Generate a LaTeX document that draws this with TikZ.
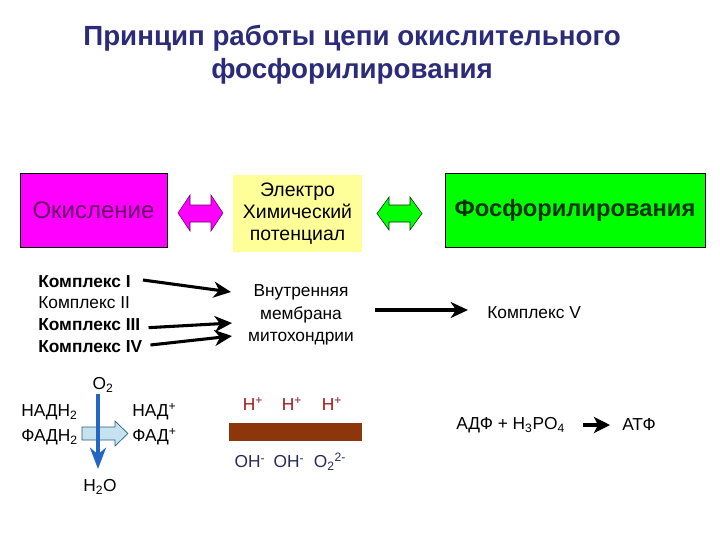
\documentclass[tikz,border=0pt]{standalone}
\usepackage{fontspec}
\setmainfont{Liberation Sans}
\usetikzlibrary{arrows.meta}
\definecolor{titleblue}{HTML}{2B2B7A}
\definecolor{boxmagenta}{HTML}{FF00FF}
\definecolor{boxgreen}{HTML}{00FF00}
\definecolor{oxtext}{HTML}{660066}
\definecolor{paleyellow}{HTML}{FFFF99}
\definecolor{phostext}{HTML}{003300}
\definecolor{barbrown}{HTML}{8C360C}
\definecolor{hred}{HTML}{A01818}
\definecolor{ohnavy}{HTML}{2A2A5A}
\definecolor{bluearrow}{HTML}{2466C4}
\definecolor{lightblue}{HTML}{C6E2EE}
\definecolor{lbborder}{HTML}{2A5A80}
\tikzset{
  bigbox/.style={draw=black, line width=0.6pt, minimum width=#1, minimum height=55.5pt, inner sep=0pt},
  lbl/.style={font=\fontsize{13}{15}\selectfont, inner sep=0pt, anchor=west},
  lblb/.style={font=\fontsize{13}{15}\selectfont\bfseries, inner sep=0pt, anchor=west},
  chem/.style={font=\fontsize{13}{15}\selectfont, inner sep=0pt},
  heavy/.style={line width=2.3pt, -{Stealth[length=13pt,width=12pt,inset=4pt]}},
}
\begin{document}
\begin{tikzpicture}[x=0.75pt,y=-0.75pt]
\useasboundingbox (0,0) rectangle (720,540);
\fill[white] (0,0) rectangle (720,540);
% title
\node[font=\fontsize{20.8}{25}\selectfont\bfseries, text=titleblue, align=center] (title) at (352,55) {Принцип работы цепи окислительного\\фосфорилирования};
% top boxes
\node[bigbox=110.25pt, fill=boxmagenta, text=oxtext, font=\fontsize{18}{20}\selectfont] (ox) at (93.5,210) {Окисление};
\node[fill=paleyellow, minimum width=96.75pt, minimum height=57.75pt, inner sep=0pt, align=center, font=\fontsize{14.6}{16.5}\selectfont] (pot) at (297.5,213.5) {Электро\\Химический\\потенциал};
\node[bigbox=195pt, fill=boxgreen, text=phostext, font=\fontsize{17.8}{20}\selectfont\bfseries] (phos) at (575,210) {Фосфорилирования};
% double block arrows
\draw[fill=boxmagenta, draw=oxtext, line width=0.4pt] (178,213) -- (190,195) -- (190,205) -- (211,205) -- (211,195) -- (223,213) -- (211,231) -- (211,222) -- (190,222) -- (190,231) -- cycle;
\draw[fill=boxgreen, draw=phostext, line width=0.4pt] (377,213.5) -- (389,197) -- (389,205) -- (410,205) -- (410,197) -- (422,213.5) -- (410,230) -- (410,222) -- (389,222) -- (389,230) -- cycle;
% complexes
\node[lblb] (c1) at (38,282) {Комплекс I};
\node[lbl] (c2) at (38,303) {Комплекс II};
\node[lblb] (c3) at (38,325) {Комплекс III};
\node[lblb] (c4) at (38,347) {Комплекс IV};
\node[align=center, font=\fontsize{13}{17}\selectfont, inner sep=0pt] (mem) at (301,315) {Внутренняя\\мембрана\\митохондрии};
\coordinate (t1) at (231,292);
\coordinate (t3) at (232,323);
\coordinate (t4) at (232,336);
\draw[heavy] ([xshift=9pt,yshift=1.5pt]c1.east) -- (t1);
\draw[heavy] ([xshift=6pt,yshift=-2pt]c3.east) -- (t3);
\draw[heavy] ([xshift=6pt,yshift=1.5pt]c4.east) -- (t4);
\node[lbl] (c5) at (487,313) {Комплекс V};
\coordinate (m1) at (375,310);
\draw[heavy] (m1) -- ([xshift=-14.25pt]c5.west |- m1);
% bottom left
\node[chem] (o2) at (103,385) {O\textsubscript{2}};
\node[chem, anchor=west] (nadh) at (21,412) {НАДН\textsubscript{2}};
\node[chem, anchor=west] (fadh) at (21,437) {ФАДН\textsubscript{2}};
\node[chem, anchor=west] (nad) at (132,412) {НАД\textsuperscript{+}};
\node[chem, anchor=west] (fad) at (132,437) {ФАД\textsuperscript{+}};
\node[chem] (h2o) at (100,487) {H\textsubscript{2}O};
\draw[fill=lightblue, draw=lbborder, line width=0.5pt] (82,427) -- (115,427) -- (115,421) -- (128,433.5) -- (115,446) -- (115,440) -- (82,440) -- cycle;
\draw[bluearrow, line width=2.4pt, -{Stealth[length=16pt,width=12pt,inset=5pt]}] (98,394) -- (98,469);
% membrane bar
\fill[barbrown] (229,423) rectangle (362,441);
\node[chem, text=hred] (h1) at (253,404) {H\textsuperscript{+}};
\node[chem, text=hred] (h2) at (292,404) {H\textsuperscript{+}};
\node[chem, text=hred] (h3) at (332,404) {H\textsuperscript{+}};
\node[chem, text=ohnavy] (oh1) at (250,462) {OH\textsuperscript{-}};
\node[chem, text=ohnavy] (oh2) at (289,462) {OH\textsuperscript{-}};
\node[chem, text=ohnavy] (o22) at (330,462) {O\textsubscript{2}\textsuperscript{2-}};
% ATP
\node[chem, anchor=west] (adp) at (456,425) {АДФ + H\textsubscript{3}PO\textsubscript{4}};
\node[chem, anchor=west] (atp) at (622,425) {АТФ};
\coordinate (a1) at (583,425);
\draw[line width=2.3pt, -{Stealth[length=12pt,width=12pt,inset=3pt]}] (a1) -- ([xshift=-9pt]atp.west);
\end{tikzpicture}
\end{document}
